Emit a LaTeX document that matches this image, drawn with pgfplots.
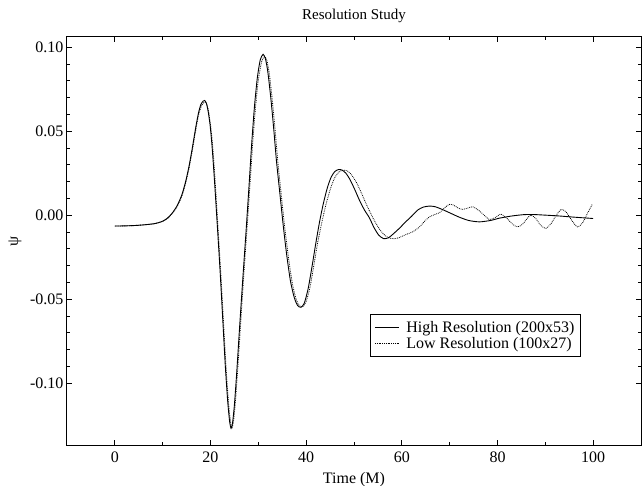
\documentclass[border=0pt]{standalone}
\usepackage{fontspec}
\setmainfont{Liberation Serif}
\usepackage{pgfplots}
\pgfplotsset{compat=1.18}

% waveform psi(t)
\pgfplotstableread{
t y
0 -0.0065
2 -0.0064
4 -0.0062
6 -0.0058
8 -0.0052
9 -0.0046
10 -0.0036
11 -0.0018
12 0.0012
13 0.0055
14 0.0120
14.8 0.0200
15.5 0.0290
16.2 0.0400
16.9 0.0520
17.5 0.0610
18.0 0.0660
18.5 0.0680
18.8 0.0683
19.1 0.0670
19.5 0.0620
19.9 0.0540
20.3 0.0420
20.8 0.0220
21.4 -0.0050
22.0 -0.0330
22.6 -0.0640
23.1 -0.0900
23.6 -0.1110
24.0 -0.1230
24.3 -0.1270
24.6 -0.1240
25.0 -0.1130
25.5 -0.0930
26.1 -0.0660
26.8 -0.0360
27.4 -0.0110
28.0 0.0150
28.6 0.0420
29.2 0.0650
29.8 0.0820
30.4 0.0925
31.0 0.0958
31.5 0.0930
32.0 0.0850
32.6 0.0700
33.2 0.0520
33.8 0.0320
34.5 0.0130
35.2 -0.0060
35.9 -0.0230
36.7 -0.0390
37.5 -0.0490
38.2 -0.0538
38.9 -0.0549
39.6 -0.0525
40.4 -0.0440
41.2 -0.0310
42.0 -0.0170
42.8 -0.0040
43.6 0.0070
44.4 0.0160
45.2 0.0225
46.0 0.0260
46.8 0.0272
47.5 0.0268
48.3 0.0250
49.2 0.0210
50.2 0.0150
51.2 0.0085
52.2 0.0030
53.2 -0.0015
54.2 -0.0075
55.2 -0.0120
56.2 -0.0140
57.2 -0.0135
58.2 -0.0112
59.5 -0.0078
60.8 -0.0040
62.0 -0.0008
63.3 0.0030
64.5 0.0048
65.8 0.0054
67.0 0.0050
68.6 0.0032
70.3 0.0010
72.0 -0.0012
74.0 -0.0032
76.2 -0.0040
78.5 -0.0032
80.4 -0.0018
83.0 -0.0005
85.5 0.0003
87.3 0.0004
90.0 0.0000
92.9 -0.0005
96.0 -0.0012
100 -0.0020
}\highres

\pgfplotstableread{
t y
0 -0.0065
2 -0.0064
4 -0.0062
6 -0.0058
8 -0.0052
9 -0.0046
10 -0.0037
11 -0.0020
12 0.0010
13 0.0050
14 0.0112
14.8 0.0190
15.5 0.0278
16.2 0.0385
16.9 0.0505
17.5 0.0595
18.1 0.0650
18.6 0.0670
18.95 0.0672
19.3 0.0655
19.7 0.0600
20.1 0.0515
20.5 0.0395
21.0 0.0190
21.6 -0.0090
22.2 -0.0370
22.8 -0.0680
23.3 -0.0930
23.8 -0.1130
24.2 -0.1235
24.5 -0.1265
24.8 -0.1230
25.2 -0.1115
25.7 -0.0915
26.3 -0.0645
27.0 -0.0340
27.6 -0.0095
28.2 0.0160
28.8 0.0420
29.4 0.0640
30.0 0.0805
30.7 0.0915
31.3 0.0945
31.8 0.0920
32.3 0.0840
32.9 0.0690
33.5 0.0510
34.1 0.0310
34.8 0.0120
35.5 -0.0070
36.3 -0.0250
37.1 -0.0405
37.9 -0.0500
38.6 -0.0540
39.3 -0.0545
40.0 -0.0515
40.8 -0.0430
41.6 -0.0300
42.4 -0.0165
43.3 -0.0040
44.2 0.0070
45.1 0.0160
46.0 0.0225
46.9 0.0258
47.8 0.0268
48.6 0.0264
49.5 0.0240
50.5 0.0195
51.5 0.0135
52.5 0.0070
53.5 0.0010
54.5 -0.0045
55.5 -0.0090
56.5 -0.0122
57.5 -0.0137
58.5 -0.0140
59.5 -0.0133
60.9 -0.0115
62.3 -0.0099
63.7 -0.0070
64.8 -0.0035
65.8 -0.0010
67.0 0.0005
67.9 0.0015
69.0 0.0045
69.9 0.0064
70.8 0.0060
71.8 0.0042
72.7 0.0034
73.8 0.0042
74.8 0.0050
76.0 0.0030
77.2 0.0000
78.3 -0.0026
79.5 -0.0015
80.7 0.0006
82.0 -0.0020
83.2 -0.0055
84.2 -0.0070
85.2 -0.0055
86.2 -0.0020
87.0 0.0000
88.0 -0.0020
89.0 -0.0060
90.1 -0.0079
91.2 -0.0050
92.3 0.0000
93.3 0.0034
94.3 0.0020
95.5 -0.0030
96.7 -0.0070
97.8 -0.0045
98.8 0.0010
99.8 0.0064
}\lowres

\begin{document}
\begin{tikzpicture}
\useasboundingbox (-67pt,-40pt) rectangle (576pt,445pt);
\begin{axis}[
    at={(0,0)}, anchor=south west,
    scale only axis, width=574pt, height=408pt,
    xmin=-10, xmax=110, ymin=-0.1369, ymax=0.1061,
    xtick={0,20,...,100},
    ytick={-0.1,-0.05,0,0.05,0.1},
    minor x tick num=1, minor y tick num=4,
    major tick length=5pt, minor tick length=3pt,
    axis line style={line width=1pt},
    every tick/.style={black, line width=0.7pt},
    tick align=inside,
    xticklabel pos=bottom, yticklabel pos=left,
    /pgf/number format/assume math mode=true,
    yticklabel style={/pgf/number format/fixed, /pgf/number format/fixed zerofill,
        /pgf/number format/precision=2},
    scaled y ticks=false,
    ticklabel style={font=\fontsize{16}{18}\selectfont},
    xticklabel style={anchor=base, yshift=-17pt},
    title={Resolution Study},
    title style={font=\fontsize{15}{18}\selectfont, at={(0.5,1)}, anchor=base, yshift=11pt},
    xlabel={Time (M)},
    xlabel style={font=\fontsize{16}{18}\selectfont, at={(0.5,0)}, anchor=base, yshift=-38pt},
    ylabel={ψ},
    ylabel style={font=\fontsize{16}{18}\selectfont, at={(0,0.5)}, anchor=center, yshift=52pt},
    legend style={at={(0.528,0.321)}, anchor=north west, draw=black, line width=0.8pt,
        fill=white, font=\fontsize{16}{17}\selectfont, inner xsep=4pt, inner ysep=5pt,
        row sep=-1pt, cells={anchor=west},
        /tikz/every odd column/.append style={column sep=5pt}},
    legend image code/.code={\draw[#1] (0pt,0pt) -- (24pt,0pt);},
]
\addplot[black, line width=0.9pt, smooth, tension=0.4] table {\highres};
\addlegendentry{High Resolution (200x53)}
\addplot[black, line width=0.8pt, densely dotted, smooth, tension=0.4] table {\lowres};
\addlegendentry{Low Resolution (100x27)}
\end{axis}
\end{tikzpicture}
\end{document}
